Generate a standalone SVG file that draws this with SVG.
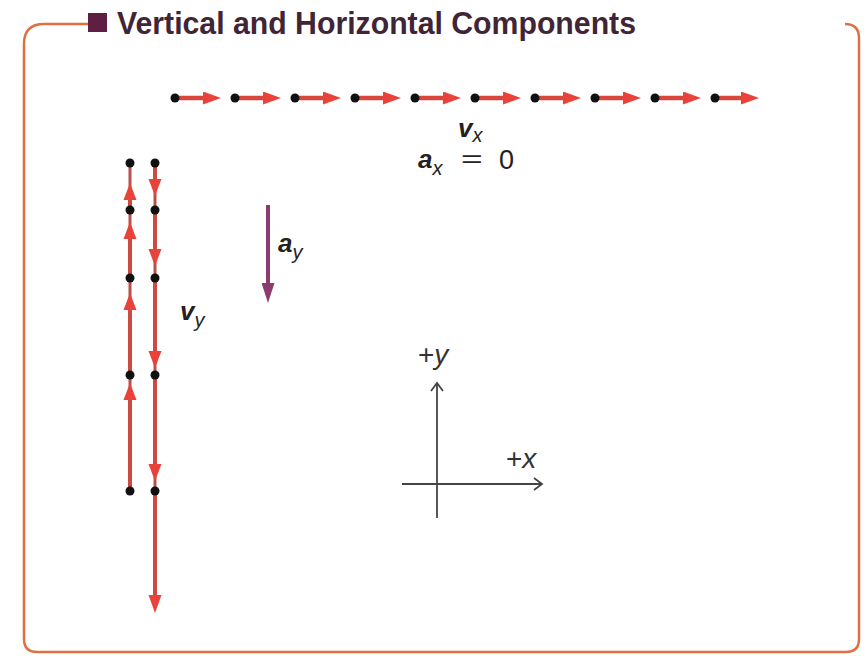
<svg xmlns="http://www.w3.org/2000/svg" width="865" height="656" viewBox="0 0 865 656">
<defs>
<style>
.dot{fill:#111}
.hs{stroke:#d8463c;stroke-width:4.5;fill:none}
.vs{stroke:#cc4a42;stroke-width:4;fill:none}
.vbg{stroke:#b8504a;stroke-width:3;fill:none}
.ax{stroke:#444;stroke-width:1.8;fill:none}
.lbl{font-family:"Liberation Sans",Arial,sans-serif;fill:#222}
.bi{font-weight:bold;font-style:italic}
.it{font-style:italic}
</style>
<marker id="ah" markerUnits="userSpaceOnUse" markerWidth="18" markerHeight="13" refX="6" refY="6.5" orient="auto">
<path d="M0,0 L18,6.5 L0,13 z" fill="#e8423a"/>
</marker>
<marker id="ap" markerUnits="userSpaceOnUse" markerWidth="20" markerHeight="13" refX="6" refY="6.5" orient="auto">
<path d="M0,0 L20,6.5 L0,13 z" fill="#8c3b6c"/>
</marker>
<marker id="open" markerUnits="userSpaceOnUse" markerWidth="12" markerHeight="14" refX="9" refY="7" orient="auto">
<path d="M1,1 L9,7 L1,13" fill="none" stroke="#444" stroke-width="1.8"/>
</marker>
<linearGradient id="topg" x1="0" x2="1" y1="0" y2="0">
<stop offset="0" stop-color="#f2dcb8"/>
<stop offset="0.55" stop-color="#e8a070"/>
<stop offset="1" stop-color="#e06a3c"/>
</linearGradient>
</defs>

<g id="frame">
<path d="M88,24 L44,24 Q24,24 24,44 L24,639 Q24,652 37,652 L846,652 Q859,652 859,639 L859,38 Q859,24 845,24" fill="none" stroke="#e0703f" stroke-width="2.5"/>
<path d="M650,24 L846,24" fill="none" stroke="url(#topg)" stroke-width="2.5"/>
</g>

<g id="title">
<rect x="88" y="13" width="19" height="19" fill="#5e1f42"/>
<text x="117" y="34" class="lbl" font-size="31" font-weight="bold" style="fill:#3f2536" textLength="519" lengthAdjust="spacingAndGlyphs">Vertical and Horizontal Components</text>
</g>

<g id="connectors">
<g id="horizontal-row">
<line class="hs" x1="175" y1="98" x2="209" y2="98" marker-end="url(#ah)"/>
<line class="hs" x1="235" y1="98" x2="269" y2="98" marker-end="url(#ah)"/>
<line class="hs" x1="295" y1="98" x2="329" y2="98" marker-end="url(#ah)"/>
<line class="hs" x1="355" y1="98" x2="389" y2="98" marker-end="url(#ah)"/>
<line class="hs" x1="415" y1="98" x2="449" y2="98" marker-end="url(#ah)"/>
<line class="hs" x1="475" y1="98" x2="509" y2="98" marker-end="url(#ah)"/>
<line class="hs" x1="535" y1="98" x2="569" y2="98" marker-end="url(#ah)"/>
<line class="hs" x1="595" y1="98" x2="629" y2="98" marker-end="url(#ah)"/>
<line class="hs" x1="655" y1="98" x2="689" y2="98" marker-end="url(#ah)"/>
<line class="hs" x1="715" y1="98" x2="747" y2="98" marker-end="url(#ah)"/>
</g>
<g id="up-column">
<line class="vbg" x1="130" y1="163" x2="130" y2="491"/>
<line class="vs" x1="130" y1="491" x2="130" y2="394"/>
<line class="vs" x1="130" y1="375" x2="130" y2="304"/>
<line class="vs" x1="130" y1="278" x2="130" y2="233"/>
<line class="vs" x1="130" y1="210" x2="130" y2="194"/>
<path d="M130,383 L123.5,400 L136.5,400 z" fill="#e8423a"/>
<path d="M130,293 L123.5,310 L136.5,310 z" fill="#e8423a"/>
<path d="M130,222 L123.5,239 L136.5,239 z" fill="#e8423a"/>
<path d="M130,183 L123.5,200 L136.5,200 z" fill="#e8423a"/>
</g>
<g id="down-column">
<line class="vbg" x1="155" y1="163" x2="155" y2="600"/>
<line class="vs" x1="155" y1="163" x2="155" y2="184"/>
<line class="vs" x1="155" y1="210" x2="155" y2="254"/>
<line class="vs" x1="155" y1="278" x2="155" y2="356"/>
<line class="vs" x1="155" y1="375" x2="155" y2="469"/>
<line class="vs" x1="155" y1="491" x2="155" y2="600"/>
<path d="M155,196 L148.5,179 L161.5,179 z" fill="#e8423a"/>
<path d="M155,266 L148.5,249 L161.5,249 z" fill="#e8423a"/>
<path d="M155,368 L148.5,351 L161.5,351 z" fill="#e8423a"/>
<path d="M155,481 L148.5,464 L161.5,464 z" fill="#e8423a"/>
<path d="M155,613 L148.5,595 L161.5,595 z" fill="#e8423a"/>
</g>
<g id="ay-arrow">
<line x1="268" y1="205" x2="268" y2="289" stroke="#8c3b6c" stroke-width="4" marker-end="url(#ap)"/>
</g>
<g id="axes">
<line class="ax" x1="437" y1="518" x2="437" y2="383" marker-end="url(#open)"/>
<line class="ax" x1="402" y1="484" x2="542" y2="484" marker-end="url(#open)"/>
</g>
</g>

<g id="dots">
<circle class="dot" cx="175" cy="98" r="4.5"/>
<circle class="dot" cx="235" cy="98" r="4.5"/>
<circle class="dot" cx="295" cy="98" r="4.5"/>
<circle class="dot" cx="355" cy="98" r="4.5"/>
<circle class="dot" cx="415" cy="98" r="4.5"/>
<circle class="dot" cx="475" cy="98" r="4.5"/>
<circle class="dot" cx="535" cy="98" r="4.5"/>
<circle class="dot" cx="595" cy="98" r="4.5"/>
<circle class="dot" cx="655" cy="98" r="4.5"/>
<circle class="dot" cx="715" cy="98" r="4.5"/>
<circle class="dot" cx="130" cy="163" r="4.5"/>
<circle class="dot" cx="130" cy="210" r="4.5"/>
<circle class="dot" cx="130" cy="278" r="4.5"/>
<circle class="dot" cx="130" cy="375" r="4.5"/>
<circle class="dot" cx="130" cy="491" r="4.5"/>
<circle class="dot" cx="155" cy="163" r="4.5"/>
<circle class="dot" cx="155" cy="210" r="4.5"/>
<circle class="dot" cx="155" cy="278" r="4.5"/>
<circle class="dot" cx="155" cy="375" r="4.5"/>
<circle class="dot" cx="155" cy="491" r="4.5"/>
</g>

<g id="labels">
<g id="vx-label"><text class="lbl" x="458" y="137" font-size="26"><tspan class="bi">v</tspan><tspan class="it" font-size="20" dy="5">x</tspan></text></g>
<g id="ax-label"><text class="lbl" x="418" y="168" font-size="26"><tspan class="bi">a</tspan><tspan class="it" font-size="20" dy="7">x</tspan></text><text class="lbl" font-size="24" transform="translate(461,167) scale(1.55,1)">=</text><text class="lbl" x="499" y="169" font-size="27">0</text></g>
<g id="vy-label"><text class="lbl" x="180" y="320" font-size="26"><tspan class="bi">v</tspan><tspan class="it" font-size="20" dy="7">y</tspan></text></g>
<g id="ay-label"><text class="lbl" x="278" y="252" font-size="26"><tspan class="bi">a</tspan><tspan class="it" font-size="20" dy="7">y</tspan></text></g>
<g id="plus-y"><text class="lbl" x="418" y="364" font-size="28" style="fill:#333">+<tspan class="it">y</tspan></text></g>
<g id="plus-x"><text class="lbl" x="506" y="468" font-size="28" style="fill:#333">+<tspan class="it">x</tspan></text></g>
</g>
</svg>
